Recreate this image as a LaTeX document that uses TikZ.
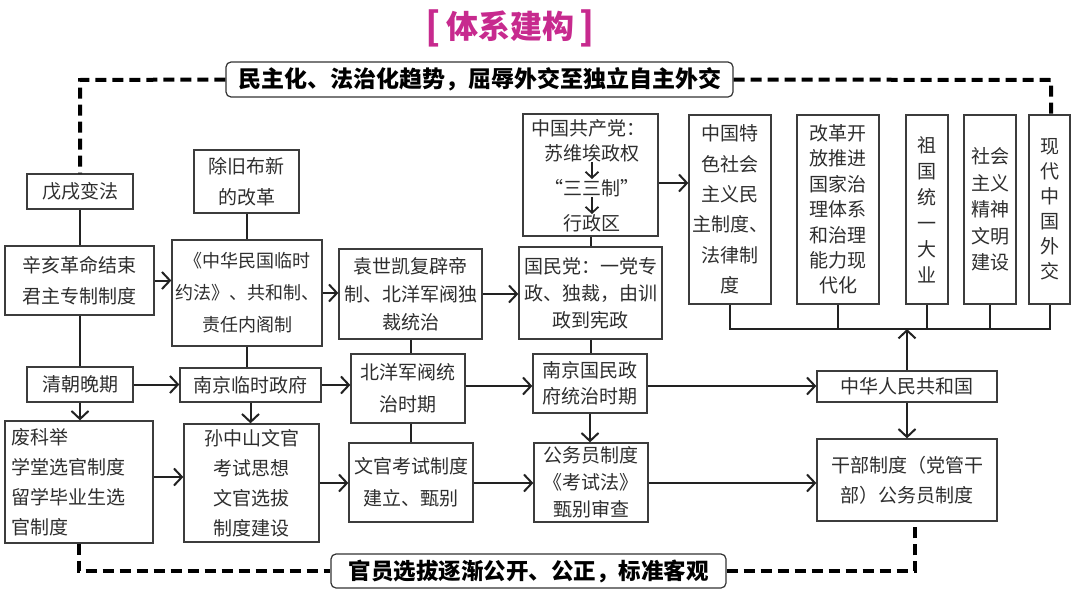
\documentclass[tikz,border=0pt]{standalone}
\usepackage{fontspec}
\setmainfont{Noto Sans CJK SC}
\usetikzlibrary{arrows.meta}
\definecolor{mag}{HTML}{C72A8E}
\definecolor{boxline}{HTML}{3C3C3C}
\definecolor{txt}{HTML}{2E2E2E}
\definecolor{lin}{HTML}{222222}
\begin{document}
\begin{tikzpicture}[x=1pt,y=-1pt,
  sz/.style 2 args={minimum width=#1pt, minimum height=#2pt},
  box/.style={draw=boxline, line width=1.3pt, inner sep=0pt, align=center, text=txt, font=\fontsize{19}{31}\selectfont},
  conn/.style={draw=lin, line width=2pt},
  arr/.style={conn, -{Straight Barb[length=8pt,width=17pt]}},
  sarr/.style={conn, line width=1.8pt, -{Straight Barb[length=6pt,width=13pt]}},
  dsh/.style={draw=black, line width=4pt, dash pattern=on 11pt off 6pt},
  banner/.style={draw=black!80, line width=1.2pt, rounded corners=5pt, fill=white, inner sep=0pt, text=black, font=\fontsize{23}{26}\selectfont\bfseries},
  gtext/.style={inner sep=0pt, text=txt, font=\fontsize{19}{22}\selectfont}
]
\useasboundingbox (0,0) rectangle (1080,608);

% title
\node[text=mag, font=\fontsize{32}{36}\selectfont\bfseries] (title) at (510,28) {\raisebox{-1.5pt}{\fontsize{38}{40}\selectfont[}\hspace{5pt}体系建构\hspace{5pt}\raisebox{-1.5pt}{\fontsize{38}{40}\selectfont]}};

% banners
\node[banner, sz={507}{35}] (b1) at (479.5,79.5) {民主化、法治化趋势，屈辱外交至独立自主外交};
\node[banner, sz={395}{34}, font=\fontsize{22.5}{26}\selectfont\bfseries] (b2) at (528.5,571) {官员选拔逐渐公开、公正，标准客观};

% row boxes
\node[box, sz={106}{35}] (wuxu) at (80,191.5) {戊戌变法};
\node[box, sz={105}{63}] (chujiu) at (246.5,181.5) {除旧布新\\的改革};
\node[box, sz={149}{69}] (xinhai) at (79.5,280.5) {辛亥革命结束\\君主专制制度};
\node[box, sz={150}{106}, font=\fontsize{18}{32}\selectfont] (yuefa) at (247,293) {《中华民国临时\\约法》、共和制、\\责任内阁制};
\node[box, sz={143}{90}, font=\fontsize{19}{28}\selectfont] (yuan) at (410.5,294) {袁世凯复辟帝\\制、北洋军阀独\\裁统治};
\node[box, sz={135}{122}] (gcd) at (590.5,175) {};
\node[box, sz={143}{92}, font=\fontsize{19}{27}\selectfont] (gmd) at (590.5,293) {国民党：一党专\\政、独裁，由训\\政到宪政};

\node[box, sz={82}{189}, font=\fontsize{19}{30.4}\selectfont] (tese) at (730,209.5) {中国特\\色社会\\主义民\\主制度、\\法律制\\度};
\node[box, sz={82}{189}, font=\fontsize{19}{25.4}\selectfont] (gaige) at (838,209.5) {改革开\\放推进\\国家治\\理体系\\和治理\\能力现\\代化};
\node[box, sz={42}{189}, font=\fontsize{19}{26}\selectfont] (tongyi) at (927,209.5) {祖\\国\\统\\一\\大\\业};
\node[box, sz={52}{189}, font=\fontsize{19}{26.5}\selectfont] (jingshen) at (990,209.5) {社会\\主义\\精神\\文明\\建设};
\node[box, sz={41}{189}, font=\fontsize{19}{25}\selectfont] (waijiao) at (1049.5,209.5) {现\\代\\中\\国\\外\\交};

\node[box, sz={106}{35}] (qingchao) at (80,384.5) {清朝晚期};
\node[box, sz={141}{34}] (njls) at (250.5,385) {南京临时政府};
\node[box, sz={114}{69}, font=\fontsize{19}{32}\selectfont] (beiyang) at (408,388.5) {北洋军阀统\\治时期};
\node[box, sz={114}{59}, font=\fontsize{19}{26}\selectfont] (njgm) at (590,383.5) {南京国民政\\府统治时期};
\node[box, sz={180}{31}] (prc) at (907,386.5) {中华人民共和国};

\node[box, sz={148}{122}, text width=134pt, inner xsep=7pt, align=left, font=\fontsize{19}{30}\selectfont] (fkj) at (79,482) {废科举\\学堂选官制度\\留学毕业生选\\官制度};
\node[box, sz={135}{118}, font=\fontsize{19}{30}\selectfont] (sun) at (251.5,483) {孙中山文官\\考试思想\\文官选拔\\制度建设};
\node[box, sz={124}{79}, font=\fontsize{19}{32}\selectfont] (wenguan) at (411,482.5) {文官考试制度\\建立、甄别};
\node[box, sz={114}{79}, font=\fontsize{19}{27}\selectfont] (gwy) at (591,482.5) {公务员制度\\《考试法》\\甄别审查};
\node[box, sz={180}{82}, font=\fontsize{19}{30}\selectfont] (ganbu) at (907,480) {干部制度（党管干\\部）公务员制度};

% CPC box contents
\node[gtext] (g1) at (588,128) {中国共产党：};
\node[gtext] (g2) at (592,153) {苏维埃政权};
\node[gtext] (g3) at (592,188) {“三三制”};
\node[gtext] (g4) at (592,223) {行政区};
\draw[sarr] (g2.south) -- (g3.north);
\draw[sarr] (g3.south) -- (g4.north);

% coordinates
\coordinate (tl) at (80,80);
\coordinate (tr) at (1051,80);
\coordinate (bl) at (79,571);
\coordinate (br) at (915,571);
\coordinate (ya) at (0,183);
\coordinate (bus) at (0,329);
\coordinate (ym) at (0,386);
\coordinate (yb) at (0,483);
\coordinate (yc) at (0,477);

% dashed frame
\draw[dsh] (b1.west) -- (tl) -- (wuxu.north);
\draw[dsh] (b1.east) -- (tr) -- (tr |- waijiao.north);
\draw[dsh] (fkj.south) -- (fkj.south |- bl) -- (b2.west);
\draw[dsh] (b2.east) -- (br) -- (br |- ganbu.south);

% connectors
\draw[conn] (wuxu.south) -- (wuxu.south |- xinhai.north);
\draw[conn] (chujiu.south) -- (chujiu.south |- yuefa.north);
\draw[arr] (xinhai.east) -- (xinhai.east -| yuefa.west);
\draw[arr] (yuefa.east) -- (yuefa.east -| yuan.west);
\draw[arr] (yuan.east) -- (yuan.east -| gmd.west);
\draw[arr] (gcd.east |- ya) -- (tese.west |- ya);
\draw[conn] (gcd.south) -- (gcd.south |- gmd.north);

\draw[conn] (tese.south) -- (tese.south |- bus) -- (waijiao.south |- bus) -- (waijiao.south);
\draw[conn] (gaige.south) -- (gaige.south |- bus);
\draw[conn] (tongyi.south) -- (tongyi.south |- bus);
\draw[conn] (jingshen.south) -- (jingshen.south |- bus);
\draw[arr] (prc.north) -- (prc.north |- bus);

\draw[conn] (xinhai.south) -- (xinhai.south |- qingchao.north);
\draw[conn] (yuefa.south) -- (yuefa.south |- njls.north);
\draw[conn] (yuan.south) -- (yuan.south |- beiyang.north);
\draw[conn] (gmd.south) -- (gmd.south |- njgm.north);

\draw[arr] (qingchao.east) -- (qingchao.east -| njls.west);
\draw[arr] (njls.east) -- (njls.east -| beiyang.west);
\draw[arr] (beiyang.east |- ym) -- (njgm.west |- ym);
\draw[arr] (njgm.east |- ym) -- (prc.west |- ym);

\draw[arr] (qingchao.south) -- (qingchao.south |- fkj.north);
\draw[arr] (njls.south) -- (njls.south |- sun.north);
\draw[conn] (yuan.south |- beiyang.south) -- (yuan.south |- wenguan.north);
\draw[arr] (njgm.south) -- (njgm.south |- gwy.north);
\draw[arr] (prc.south) -- (prc.south |- ganbu.north);

\draw[arr] (fkj.east |- yc) -- (sun.west |- yc);
\draw[arr] (sun.east |- yb) -- (wenguan.west |- yb);
\draw[arr] (wenguan.east |- yb) -- (gwy.west |- yb);
\draw[arr] (gwy.east |- yb) -- (ganbu.west |- yb);
\end{tikzpicture}
\end{document}
